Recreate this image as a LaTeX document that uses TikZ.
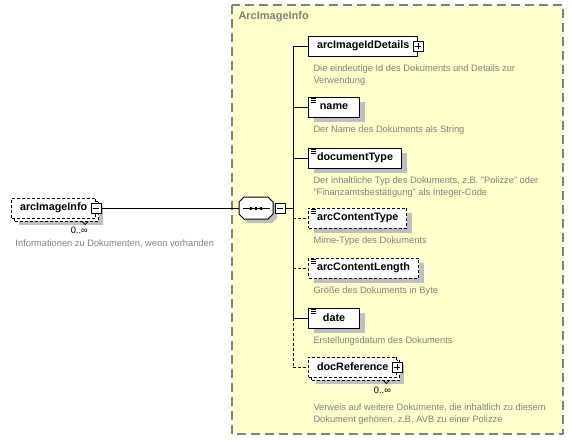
\documentclass[tikz,border=0pt]{standalone}
\usepackage{fontspec}
\setmainfont{Liberation Sans}
\usetikzlibrary{positioning,shadows}
\definecolor{boxyellow}{HTML}{FFFFCC}
\definecolor{shadowgray}{HTML}{BFBFBF}
\definecolor{notegray}{HTML}{808080}
\begin{document}
\begin{tikzpicture}[x=1pt,y=-1pt,line join=round,line width=1pt,
    elem/.style={draw,fill=white,font=\fontsize{10.8}{13}\selectfont\bfseries,minimum height=20pt,minimum width=51pt,inner xsep=8.5pt,inner ysep=0pt,anchor=west},
    optelem/.style={elem,dash pattern=on 3pt off 2pt},
    shadowed/.style={drop shadow={shadow xshift=#1,shadow yshift=-#1,opacity=1,fill=shadowgray}},
    shadowed/.default=5pt,
    stacked/.style={copy shadow={shadow xshift=3pt,shadow yshift=-3pt}},
    note/.style={font=\fontsize{9.3}{12}\selectfont,text=notegray,align=left,anchor=north west,inner sep=0pt},
    occurs/.style={font=\fontsize{9.3}{12}\selectfont,anchor=east,inner sep=0pt},
    pmbox/.style={draw,fill=white,minimum size=10pt,inner sep=0pt},
    minusbox/.style={pmbox,path picture={\draw([xshift=2pt]path picture bounding box.west)--([xshift=-2pt]path picture bounding box.east);}},
    plusbox/.style={pmbox,path picture={\draw([xshift=2pt]path picture bounding box.west)--([xshift=-2pt]path picture bounding box.east)([yshift=-2pt]path picture bounding box.north)--([yshift=2pt]path picture bounding box.south);}},
    optline/.style={dash pattern=on 3pt off 2pt}]
\useasboundingbox (0,0) rectangle (572,440);
% complex type frame
\draw[fill=boxyellow,draw=notegray,line width=1.5pt,dash pattern=on 9pt off 5pt] (232,5) rectangle (563,434);
\node[font=\fontsize{11}{13}\selectfont\bfseries,text=notegray,anchor=west,inner sep=0pt] (title) at (238,17) {ArcImageInfo};
% root element
\node[optelem,shadowed=7pt,stacked] (info) at (11,208) {arcImageInfo\hspace{5pt}};
\node[minusbox] (infopm) at (info.east) {};
\node[occurs] (infooccurs) at ([shift={(-8,12)}]info.south east) {0..∞};
\node[note] (infonote) at (15,239) {Informationen zu Dokumenten, wenn vorhanden};
% sequence
\fill[shadowgray,shift={(260,212)}] (-12,-11)--(12,-11)--(17,-6)--(17,6)--(12,11)--(-12,11)--(-17,6)--(-17,-6)--cycle;
\filldraw[fill=white,shift={(256,208)}] (-12,-11)--(12,-11)--(17,-6)--(17,6)--(12,11)--(-12,11)--(-17,6)--(-17,-6)--cycle;
\node[minimum width=34pt,minimum height=22pt,inner sep=0pt] (seq) at (256,208) {};
\node[minusbox,right=1pt of seq] (seqpm) {};
\draw ([xshift=4pt]seq.west)--([xshift=-4pt]seq.east);
\foreach \dx in {-5,0,5}
  \fill ([shift={(\dx-1.2,-1.5)}]seq.center) rectangle ++(2.4,3);
\draw (infopm.east)--(seq.west);
% children
\node[elem] (idDetails) at (308,46) {arcImageIdDetails\hspace{4pt}};
\node[plusbox] (idDetailspm) at (idDetails.east) {};
\node[elem,shadowed] (name) at (308,107) {name};
\node[elem,shadowed] (docType) at (308,158) {documentType};
\node[optelem,shadowed] (contentType) at (308,218) {arcContentType};
\node[optelem,shadowed] (contentLength) at (308,268) {arcContentLength};
\node[elem,shadowed] (date) at (308,318) {date};
\node[optelem,shadowed=7pt,stacked] (docRef) at (308,367) {docReference\hspace{2pt}};
\node[plusbox] (docRefpm) at (docRef.east) {};
\node[occurs] (docRefoccurs) at ([shift={(-6,13)}]docRef.south east) {0..∞};
\foreach \n in {info,docRef}
  \draw[line width=0.7pt] ([shift={(-14,3)}]\n.south east)--++(3,3)--++(3,-3);
\foreach \n in {name,docType,contentType,contentLength,date}
  \foreach \dy in {2,4,6}
    \draw[line width=0.7pt] ([shift={(3,\dy)}]\n.north west)--++(5,0);
% notes
\node[note] (idDetailsnote) at ([shift={(5,8)}]idDetails.south west) {Die eindeutige Id des Dokuments und Details zur\\Verwendung};
\node[note] (namenote) at ([shift={(5,8)}]name.south west) {Der Name des Dokuments als String};
\node[note] (docTypenote) at ([shift={(5,8)}]docType.south west) {Der inhaltliche Typ des Dokuments, z.B. "Polizze" oder\\"Finanzamtsbestätigung" als Integer-Code};
\node[note] (contentTypenote) at ([shift={(5,8)}]contentType.south west) {Mime-Type des Dokuments};
\node[note] (contentLengthnote) at ([shift={(5,8)}]contentLength.south west) {Größe des Dokuments in Byte};
\node[note] (datenote) at ([shift={(5,8)}]date.south west) {Erstellungsdatum des Dokuments};
\node[note] (docRefnote) at ([shift={(5,26)}]docRef.south west) {Verweis auf weitere Dokumente, die inhaltlich zu diesem\\Dokument gehören, z.B. AVB zu einer Polizze};
% connectors
\coordinate (bus) at (293,208);
\draw (seqpm.east)--(bus);
\draw (bus |- idDetails.west)--(bus |- date.west);
\draw[optline] (bus |- date.west)--(bus |- docRef.west);
\foreach \n in {idDetails,name,docType,date}
  \draw (bus |- \n.west)--(\n.west);
\foreach \n in {contentType,contentLength,docRef}
  \draw[optline] (bus |- \n.west)--(\n.west);
\end{tikzpicture}
\end{document}
